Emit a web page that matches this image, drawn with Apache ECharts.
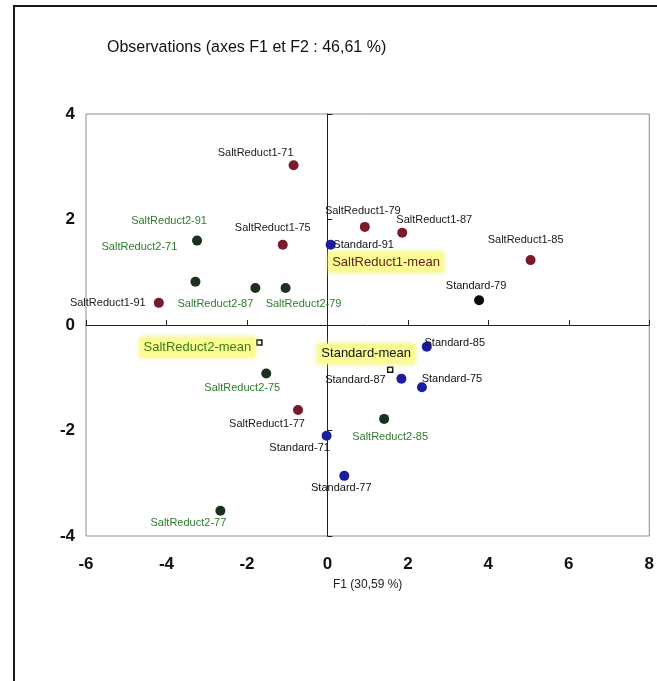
<!DOCTYPE html>
<html>
<head>
<meta charset="utf-8">
<script src="https://cdn.jsdelivr.net/npm/echarts@6/dist/echarts.min.js"></script>
<style>
  html, body { margin: 0; padding: 0; background: #fff; }
  #chart { width: 657px; height: 681px; }
</style>
</head>
<body>
<div id="chart"></div>
<script>
// PCA observations, F1 (30,59 %) x F2
const titleText = 'Observations (axes F1 et F2 : 46,61 %)';
const xAxisName = 'F1 (30,59 %)';
const xTicks = { min: -6, max: 8, step: 2 };
const yTicks = { min: -4, max: 4, step: 2 };

const sr1Names = ['SaltReduct1-71', 'SaltReduct1-75', 'SaltReduct1-91', 'SaltReduct1-79', 'SaltReduct1-87', 'SaltReduct1-85', 'SaltReduct1-77'];
const sr1F1 = [-0.84, -1.11, -4.19, 0.93, 1.86, 5.05, -0.73];
const sr1F2 = [3.03, 1.52, 0.42, 1.86, 1.75, 1.23, -1.61];

const sr2Names = ['SaltReduct2-91', 'SaltReduct2-71', 'SaltReduct2-87', 'SaltReduct2-79', 'SaltReduct2-75', 'SaltReduct2-77', 'SaltReduct2-85'];
const sr2F1 = [-3.24, -3.28, -1.79, -1.04, -1.52, -2.66, 1.41];
const sr2F2 = [1.60, 0.82, 0.70, 0.70, -0.92, -3.52, -1.78];

const stdNames = ['Standard-91', 'Standard-79', 'Standard-85', 'Standard-87', 'Standard-75', 'Standard-71', 'Standard-77'];
const stdF1 = [0.08, 3.77, 2.47, 1.84, 2.35, -0.02, 0.42];
const stdF2 = [1.52, 0.47, -0.41, -1.02, -1.18, -2.10, -2.86];

const meanNames = ['SaltReduct1-mean', 'SaltReduct2-mean', 'Standard-mean'];
const meanF1 = [0.14, -1.69, 1.56];
const meanF2 = [1.17, -0.33, -0.85];

// label placement (pixel offsets of the label centre from its point)
const labelShift = {
  'SaltReduct1-71': [-38, -12], 'SaltReduct1-75': [-10, -17], 'SaltReduct1-91': [-51, 0],
  'SaltReduct1-79': [-2, -16], 'SaltReduct1-87': [32, -13], 'SaltReduct1-85': [-5, -20],
  'SaltReduct1-77': [-31, 14],
  'SaltReduct2-91': [-28, -20], 'SaltReduct2-71': [-56, -35], 'SaltReduct2-87': [-40, 16],
  'SaltReduct2-79': [18, 16], 'SaltReduct2-75': [-24, 14], 'SaltReduct2-77': [-32, 12],
  'SaltReduct2-85': [6, 18],
  'Standard-91': [33, 0], 'Standard-79': [-3, -14], 'Standard-85': [28, -4],
  'Standard-87': [-46, 1], 'Standard-75': [30, -8], 'Standard-71': [-27, 12],
  'Standard-77': [-3, 12],
  'SaltReduct1-mean': [53, -1], 'SaltReduct2-mean': [-62, 5], 'Standard-mean': [-24, -16]
};
const pointColorOverride = { 'Standard-79': '#0c0c0c' };

const FONT = '"Liberation Sans", Arial, sans-serif';

function buildPoints(names, xs, ys, labelColor) {
  return names.map((n, i) => {
    const item = {
      name: n,
      value: [xs[i], ys[i]],
      label: { offset: labelShift[n] || [0, 0], color: labelColor }
    };
    if (pointColorOverride[n]) item.itemStyle = { color: pointColorOverride[n], opacity: 1 };
    return item;
  });
}

function pointSeries(name, names, xs, ys, dotColor, labelColor) {
  return {
    name: name,
    type: 'scatter',
    xAxisIndex: 0, yAxisIndex: 0,
    symbol: 'circle',
    symbolSize: 10,
    itemStyle: { color: dotColor, opacity: 1 },
    label: {
      show: true,
      position: 'inside',
      formatter: p => p.name,
      fontFamily: FONT,
      fontSize: 11,
      align: 'center',
      verticalAlign: 'middle'
    },
    emphasis: { disabled: true },
    data: buildPoints(names, xs, ys, labelColor)
  };
}

const meanTextColors = ['#5e2418', '#3f7d12', '#111111'];
const meanData = meanNames.map((n, i) => ({
  name: n,
  value: [meanF1[i], meanF2[i]],
  label: { offset: labelShift[n], color: meanTextColors[i] }
}));

const chart = echarts.init(document.getElementById('chart'), null, { renderer: 'canvas' });

chart.setOption({
  animation: false,
  backgroundColor: '#ffffff',
  title: {
    text: titleText,
    left: 102, top: 35,
    textStyle: { fontFamily: FONT, fontSize: 16, fontWeight: 'normal', color: '#111' }
  },
  graphic: [{
    type: 'rect',
    shape: { x: 14, y: 6, width: 700, height: 700 },
    style: { fill: 'none', stroke: '#1a1a1a', lineWidth: 2 },
    silent: true
  }],
  grid: {
    left: 86, right: 7, top: 114, bottom: 145,
    show: true, borderColor: '#8c8c8c', borderWidth: 1, backgroundColor: '#fff'
  },
  xAxis: [{
    type: 'value', min: xTicks.min, max: xTicks.max, interval: xTicks.step,
    position: 'top',
    axisLine: { show: true, onZero: true, onZeroAxisIndex: 0, lineStyle: { color: '#222', width: 1 } },
    axisTick: { show: true, inside: false, length: 5, lineStyle: { color: '#222' } },
    axisLabel: { show: false },
    splitLine: { show: false }
  }, {
    type: 'value', min: xTicks.min, max: xTicks.max, interval: xTicks.step,
    position: 'bottom',
    axisLine: { show: false, onZero: false },
    axisTick: { show: false },
    axisLabel: { fontFamily: FONT, fontSize: 17, fontWeight: 'bold', color: '#111', margin: 20 },
    splitLine: { show: false },
    name: xAxisName, nameLocation: 'middle', nameGap: 43,
    nameTextStyle: { fontFamily: FONT, fontSize: 12, color: '#222' }
  }],
  yAxis: [{
    type: 'value', min: yTicks.min, max: yTicks.max, interval: yTicks.step,
    position: 'right',
    axisLine: { show: true, onZero: true, onZeroAxisIndex: 0, lineStyle: { color: '#222', width: 1 } },
    axisTick: { show: true, inside: false, length: 5, lineStyle: { color: '#222' } },
    axisLabel: { show: false },
    splitLine: { show: false }
  }, {
    type: 'value', min: yTicks.min, max: yTicks.max, interval: yTicks.step,
    position: 'left',
    axisLine: { show: false, onZero: false },
    axisTick: { show: false },
    axisLabel: { fontFamily: FONT, fontSize: 17, fontWeight: 'bold', color: '#111', margin: 11 },
    splitLine: { show: false }
  }],
  series: [
    {
      name: 'mean',
      type: 'scatter',
      xAxisIndex: 0, yAxisIndex: 0,
      symbol: 'rect',
      symbolSize: 5,
      itemStyle: { color: '#ffffff', borderColor: '#111', borderWidth: 1.5, opacity: 1 },
      label: {
        show: true, position: 'inside',
        formatter: p => p.name,
        fontFamily: FONT, fontSize: 13,
        backgroundColor: '#fbfb96',
        padding: [4, 4, 3, 4],
        shadowColor: 'rgba(240,240,120,0.9)', shadowBlur: 6,
        align: 'center', verticalAlign: 'middle'
      },
      emphasis: { disabled: true },
      z: 1,
      data: meanData
    },
    pointSeries('SaltReduct1', sr1Names, sr1F1, sr1F2, '#7a1a2a', '#1a1a1a'),
    pointSeries('SaltReduct2', sr2Names, sr2F1, sr2F2, '#1c301e', '#2f7a2f'),
    pointSeries('Standard', stdNames, stdF1, stdF2, '#1c1ca0', '#111')
  ]
});
</script>
</body>
</html>
